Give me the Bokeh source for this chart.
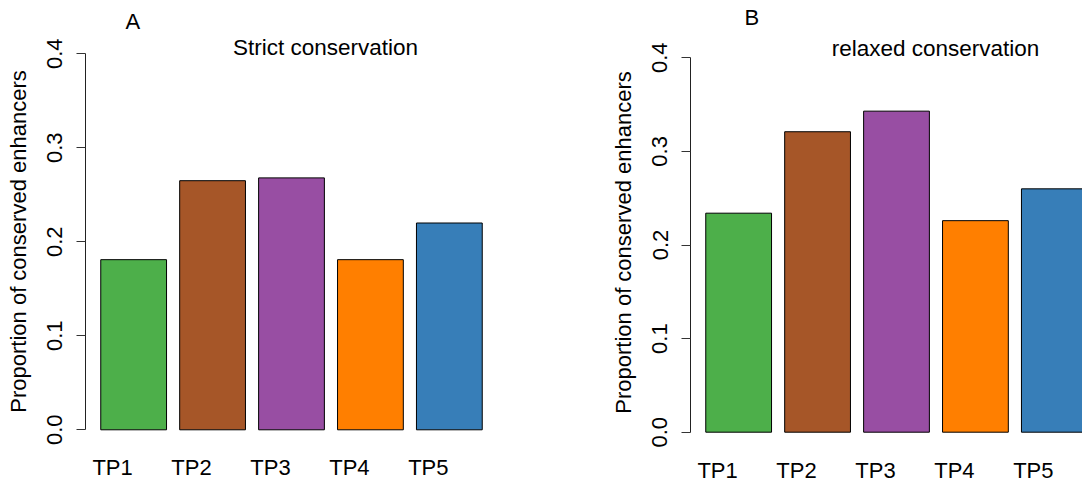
from bokeh.plotting import figure
from bokeh.layouts import row
from bokeh.models import (Range1d, FixedTicker, PrintfTickFormatter,
                          CustomJSTickFormatter, Label, Title)
from bokeh.embed import file_html
from bokeh.resources import INLINE

# ---- data ----
categories = ["TP1", "TP2", "TP3", "TP4", "TP5"]
strict_values = [0.181, 0.265, 0.268, 0.181, 0.220]
relaxed_values = [0.234, 0.321, 0.343, 0.226, 0.260]
bar_colors = ["#4DAF4A", "#A65628", "#984EA3", "#FF7F00", "#377EB8"]
y_ticks = [0.0, 0.1, 0.2, 0.3, 0.4]
panel_letters = ["A", "B"]
panel_titles = ["Strict conservation", "relaxed conservation"]
y_label = "Proportion of conserved enhancers"

FONT = "Liberation Sans"
FS = "22px"

# R barplot geometry: width 1, space 0.2
centers = [0.7 + 1.2 * i for i in range(len(categories))]
label_pos = [c - 0.32 for c in centers]
X0 = -0.032
X1 = 6.232
UNIT_PX = 412 / (X1 - X0)
FRAME_TOP = 34


def make_panel(values, letter, title, frame_left, frame_w, frame_h,
               zero_px, total_h, right_border, x_end, px_per_y,
               title_dx, title_dy, letter_offset, letter_valign,
               letter_standoff, xlab_standoff):
    y_start = -(FRAME_TOP + frame_h - zero_px) / px_per_y
    p = figure(title=None, frame_width=frame_w, frame_height=frame_h,
               min_border_left=frame_left, min_border_right=right_border,
               min_border_top=FRAME_TOP,
               min_border_bottom=total_h - FRAME_TOP - frame_h,
               x_range=Range1d(X0, x_end),
               y_range=Range1d(y_start, y_start + frame_h / px_per_y),
               output_backend="svg", toolbar_location=None,
               background_fill_color="white", border_fill_color="white")
    p.outline_line_color = None
    p.grid.visible = False

    p.vbar(x=centers, width=1.0, bottom=0, top=values, fill_color=bar_colors,
           line_color="black", line_width=1)

    # y axis (R style)
    ya = p.yaxis[0]
    ya.bounds = (0, 0.4)
    ya.ticker = FixedTicker(ticks=y_ticks)
    ya.formatter = PrintfTickFormatter(format="%.1f")
    ya.minor_tick_line_color = None
    ya.major_tick_in = 0
    ya.major_tick_out = 9
    ya.major_tick_line_color = "#333333"
    ya.axis_line_color = "#222222"
    ya.major_label_orientation = "vertical"
    ya.major_label_text_font = FONT
    ya.major_label_text_font_size = FS
    ya.major_label_text_color = "black"
    ya.major_label_standoff = 14
    ya.axis_label = y_label
    ya.axis_label_text_font = FONT
    ya.axis_label_text_font_size = FS
    ya.axis_label_text_font_style = "normal"
    ya.axis_label_text_color = "black"
    ya.axis_label_standoff = 14

    # x axis: only category labels
    xa = p.xaxis[0]
    xa.ticker = FixedTicker(ticks=label_pos)
    xa.formatter = CustomJSTickFormatter(args=dict(labels=categories),
                                         code="return labels[index]")
    xa.axis_line_color = None
    xa.major_tick_line_color = None
    xa.minor_tick_line_color = None
    xa.major_label_text_font = FONT
    xa.major_label_text_font_size = FS
    xa.major_label_text_color = "black"
    xa.major_label_standoff = xlab_standoff

    # panel title inside the plot region
    p.add_layout(Label(x=title_dx, y=title_dy, x_units="screen",
                       y_units="screen", text=title, text_font=FONT,
                       text_font_size="22.5px", text_align="center",
                       text_baseline="middle", text_color="black"))
    # panel letter above the plot region
    p.add_layout(Title(text=letter, align="left", offset=letter_offset,
                       vertical_align=letter_valign,
                       standoff=letter_standoff,
                       text_font=FONT, text_font_size=FS,
                       text_font_style="normal", text_color="black"),
                 "above")
    return p


pA = make_panel(strict_values, panel_letters[0], panel_titles[0],
                frame_left=85, frame_w=412, frame_h=414,
                zero_px=429.3, total_h=483, right_border=43, x_end=X1,
                px_per_y=940, title_dx=240, title_dy=448 - 47,
                letter_offset=40, letter_valign="bottom", letter_standoff=2,
                xlab_standoff=0)
pB = make_panel(relaxed_values, panel_letters[1], panel_titles[1],
                frame_left=150, frame_w=392, frame_h=416,
                zero_px=431.7, total_h=483, right_border=0,
                x_end=X0 + 392 / UNIT_PX, px_per_y=936,
                title_dx=245, title_dy=450 - 48,
                letter_offset=54, letter_valign="top", letter_standoff=6,
                xlab_standoff=1)

layout = row(pA, pB)
open("out.html", "w").write(file_html(layout, INLINE))
